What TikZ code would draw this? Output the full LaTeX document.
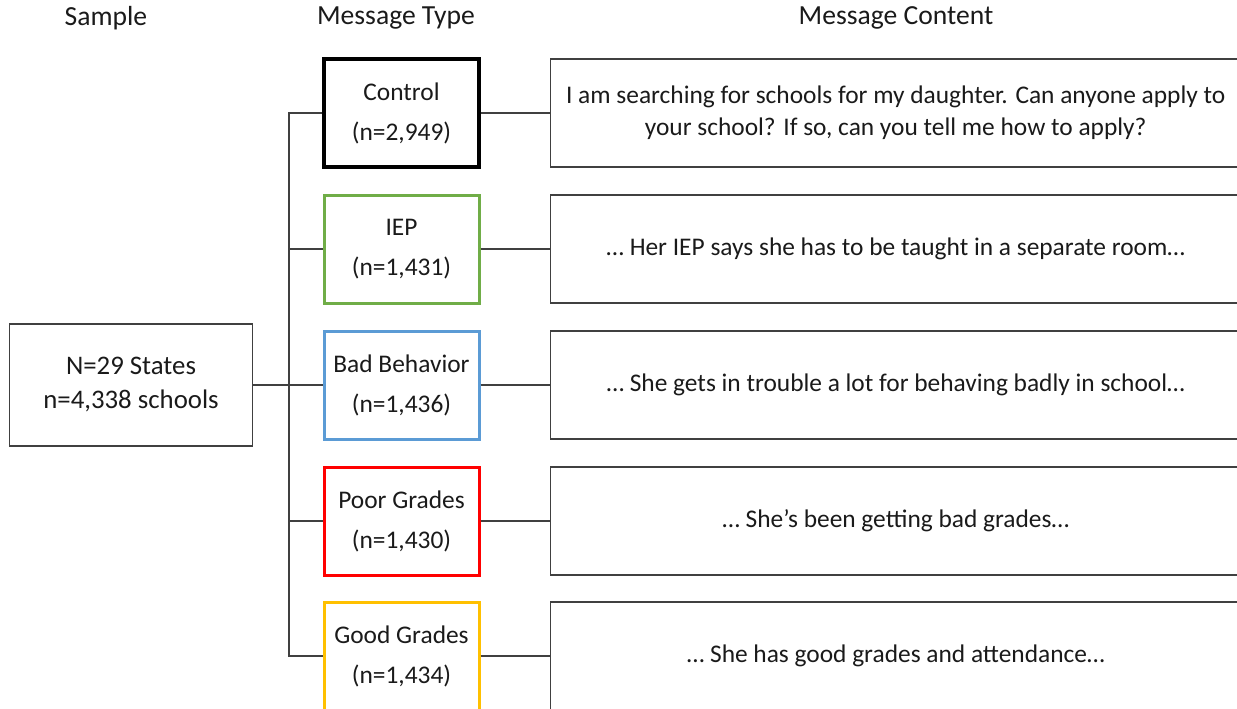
\documentclass[tikz,border=0pt]{standalone}
\usepackage{fontspec}
\setmainfont{Carlito}
\definecolor{txt}{HTML}{1A1A1A}
\definecolor{ln}{HTML}{404040}
\definecolor{cgreen}{HTML}{70AD47}
\definecolor{cblue}{HTML}{5B9BD5}
\definecolor{cred}{HTML}{FF0000}
\definecolor{cgold}{HTML}{FFC000}
\begin{document}
\begin{tikzpicture}[x=1pt,y=-1pt,
  hdr/.style={text=txt,font=\fontsize{27.6}{32}\selectfont,inner sep=0pt},
  samplebox/.style={draw=ln,line width=1.4pt,minimum width=243pt,minimum height=122pt,align=center,text=txt,font=\fontsize{26.8}{34}\selectfont,inner sep=0pt},
  typebox/.style={draw=#1,line width=3pt,minimum width=155pt,minimum height=108pt,align=center,text=txt,font=\fontsize{25.4}{40}\selectfont,inner sep=0pt},
  contentbox/.style={draw=ln,line width=1.4pt,minimum width=690pt,minimum height=108pt,anchor=west,align=center,text=txt,font=\fontsize{25.4}{32}\selectfont,inner sep=0pt},
  conn/.style={draw=ln,line width=1.4pt}]
\useasboundingbox (0,0) rectangle (1237,709);
\node[hdr] (h1) at (106,18) {Sample};
\node[hdr] (h2) at (396,18) {Message Type};
\node[hdr] (h3) at (896,18) {Message Content};
\node[samplebox] (samp) at (131,385) {N=29 States\\n=4,338 schools};
\node[typebox=black,line width=3.6pt] (ctrl) at (401.5,113) {Control\\(n=2,949)};
\node[typebox=cgreen] (iep) at (401.5,249) {IEP\\(n=1,431)};
\node[typebox=cblue] (bad) at (401.5,385) {Bad Behavior\\(n=1,436)};
\node[typebox=cred] (poor) at (401.5,521) {Poor Grades\\(n=1,430)};
\node[typebox=cgold] (good) at (401.5,656) {Good Grades\\(n=1,434)};
\node[contentbox] (c1) at (550,113) {I am searching for schools for my daughter. Can anyone apply to\\your school? If so, can you tell me how to apply?};
\node[contentbox] (c2) at (550,249) {\dots{} Her IEP says she has to be taught in a separate room\dots};
\node[contentbox] (c3) at (550,385) {\dots{} She gets in trouble a lot for behaving badly in school\dots};
\node[contentbox] (c4) at (550,521) {\dots{} She’s been getting bad grades\dots};
\node[contentbox] (c5) at (550,656) {\dots{} She has good grades and attendance\dots};
\coordinate (tTop) at (289,113);
\coordinate (tBot) at (289,656);
\draw[conn] (ctrl.west) -- (tTop) -- (tBot) -- (good.west);
\draw[conn] (samp.east) -- (samp.east -| tTop);
\draw[conn] (iep.west) -- (iep.west -| tTop);
\draw[conn] (bad.west) -- (bad.west -| tTop);
\draw[conn] (poor.west) -- (poor.west -| tTop);
\draw[conn] (ctrl.east) -- (c1.west);
\draw[conn] (iep.east) -- (c2.west);
\draw[conn] (bad.east) -- (c3.west);
\draw[conn] (poor.east) -- (c4.west);
\draw[conn] (good.east) -- (c5.west);
\end{tikzpicture}
\end{document}
